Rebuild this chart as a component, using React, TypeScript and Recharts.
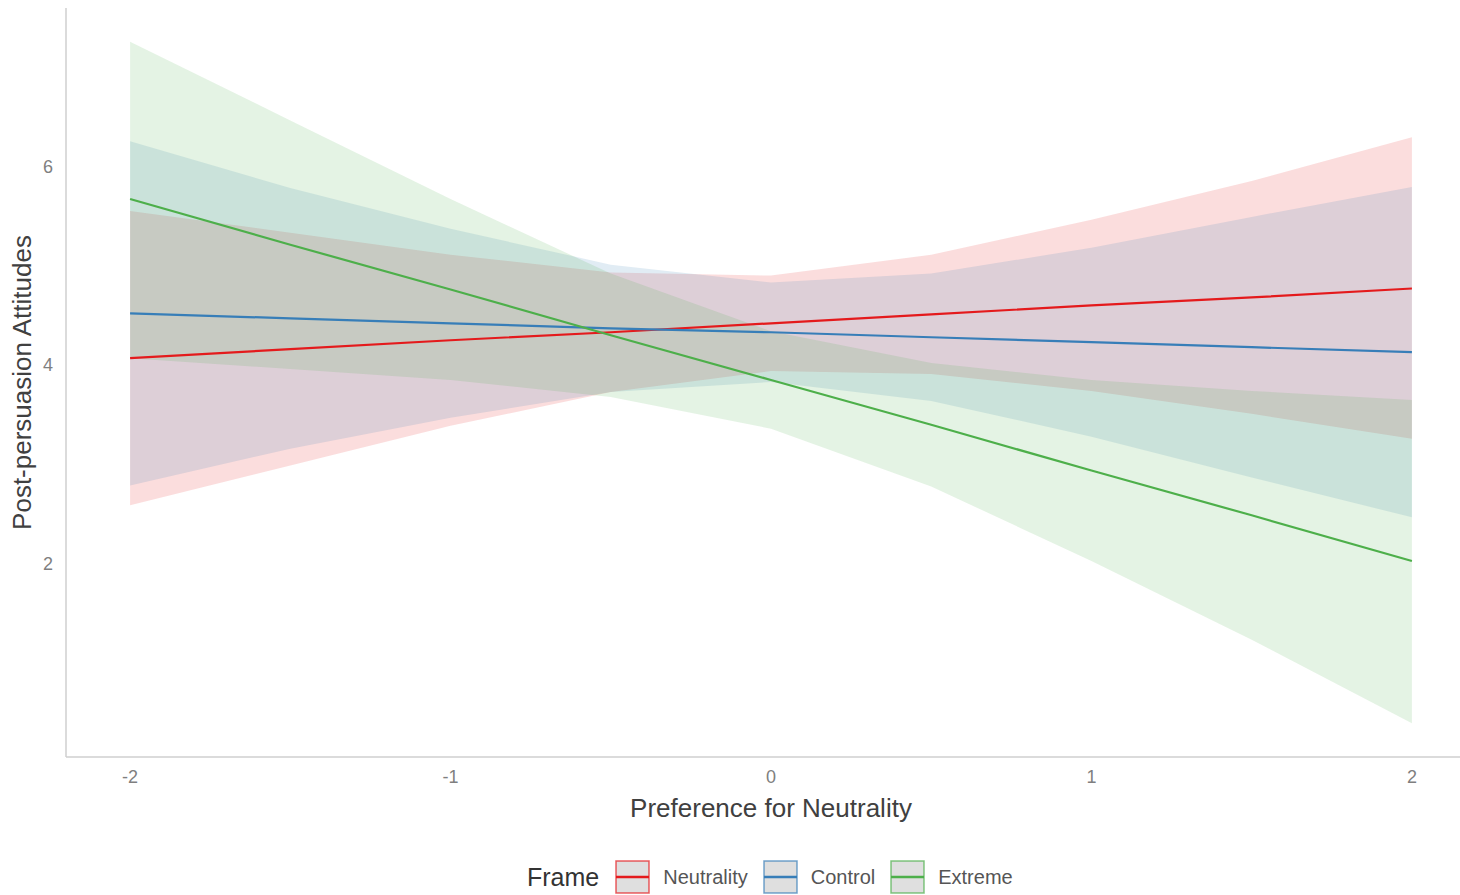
import {
  ComposedChart,
  Area,
  Line,
  XAxis,
  YAxis,
  Label,
} from "recharts";

// predictor grid
const xValues = [-2, -1.5, -1, -0.5, 0, 0.5, 1, 1.5, 2];

// fitted attitudes and 95% bands per frame
const neutralityFit = [4.07, 4.16, 4.25, 4.33, 4.42, 4.51, 4.6, 4.68, 4.77];
const neutralityLow = [2.59, 2.99, 3.39, 3.73, 3.94, 3.91, 3.74, 3.51, 3.26];
const neutralityHigh = [5.55, 5.33, 5.11, 4.93, 4.9, 5.11, 5.46, 5.85, 6.29];

const controlFit = [4.52, 4.47, 4.42, 4.37, 4.33, 4.28, 4.23, 4.18, 4.13];
const controlLow = [2.79, 3.16, 3.47, 3.73, 3.83, 3.64, 3.28, 2.87, 2.47];
const controlHigh = [6.25, 5.78, 5.37, 5.01, 4.83, 4.92, 5.18, 5.49, 5.79];

const extremeFit = [5.67, 5.21, 4.76, 4.3, 3.85, 3.4, 2.94, 2.49, 2.03];
const extremeLow = [4.07, 3.96, 3.85, 3.68, 3.36, 2.78, 2.03, 1.24, 0.4];
const extremeHigh = [7.25, 6.46, 5.67, 4.92, 4.34, 4.02, 3.85, 3.74, 3.65];

const xTicks = [-2, -1, 0, 1, 2];
const yTicks = [2, 4, 6];

const frames = [
  { key: "neutrality", name: "Neutrality", color: "#E41A1C" },
  { key: "control", name: "Control", color: "#377EB8" },
  { key: "extreme", name: "Extreme", color: "#4DAF4A" },
];

const data = xValues.map((x, i) => ({
  x,
  neutrality: neutralityFit[i],
  neutralityBand: [neutralityLow[i], neutralityHigh[i]],
  control: controlFit[i],
  controlBand: [controlLow[i], controlHigh[i]],
  extreme: extremeFit[i],
  extremeBand: [extremeLow[i], extremeHigh[i]],
}));

const font = '"Liberation Sans", Arial, sans-serif';
const tickStyle = { fill: "#7f7f7f", fontSize: 18, fontFamily: font };

function FrameLegend() {
  return (
    <div
      style={{
        position: "absolute",
        left: 527,
        top: 860,
        display: "flex",
        alignItems: "center",
        fontFamily: font,
      }}
    >
      <span style={{ fontSize: 25, color: "#333", marginRight: 16 }}>Frame</span>
      {frames.map((f) => (
        <div key={f.key} style={{ display: "flex", alignItems: "center", marginRight: 15 }}>
          <svg width={35} height={34}>
            <rect x={1} y={1} width={33} height={32} fill="#dfdfdf" stroke={f.color} strokeOpacity={0.7} strokeWidth={1.5} />
            <line x1={1} y1={17} x2={34} y2={17} stroke={f.color} strokeWidth={2.5} />
          </svg>
          <span style={{ fontSize: 20, color: "#555", marginLeft: 13 }}>{f.name}</span>
        </div>
      ))}
    </div>
  );
}

export default function App() {
  return (
    <div
      style={{
        position: "fixed",
        left: 0,
        top: 0,
        width: 1460,
        height: 895,
        overflow: "hidden",
        background: "#fff",
      }}
    >
      <ComposedChart
        width={1480}
        height={895}
        data={data}
        margin={{ top: 8, right: 4, left: 0, bottom: 68 }}
      >
        <XAxis
          dataKey="x"
          type="number"
          domain={[-2.2, 2.2]}
          ticks={xTicks}
          height={70}
          tickLine={false}
          tickSize={0}
          tickMargin={13}
          axisLine={{ stroke: "#cfcfcf", strokeWidth: 1.5 }}
          tick={tickStyle}
        >
          <Label
            value="Preference for Neutrality"
            position="insideBottom"
            offset={10}
            style={{ fill: "#404040", fontSize: 26, fontFamily: font }}
          />
        </XAxis>
        <YAxis
          type="number"
          domain={[0.06, 7.59]}
          ticks={yTicks}
          width={66}
          tickLine={false}
          tickSize={0}
          tickMargin={13}
          axisLine={{ stroke: "#cfcfcf", strokeWidth: 1.5 }}
          tick={tickStyle}
        >
          <Label
            value="Post-persuasion Attitudes"
            angle={-90}
            position="insideLeft"
            offset={22}
            style={{ textAnchor: "middle", fill: "#404040", fontSize: 26, fontFamily: font }}
          />
        </YAxis>
        {frames.map((f) => (
          <Area
            key={f.key + "Band"}
            dataKey={f.key + "Band"}
            type="linear"
            stroke="none"
            fill={f.color}
            fillOpacity={0.15}
            isAnimationActive={false}
            legendType="none"
          />
        ))}
        {frames.map((f) => (
          <Line
            key={f.key}
            dataKey={f.key}
            type="linear"
            stroke={f.color}
            strokeWidth={2.2}
            dot={false}
            isAnimationActive={false}
          />
        ))}
      </ComposedChart>
      <FrameLegend />
    </div>
  );
}
